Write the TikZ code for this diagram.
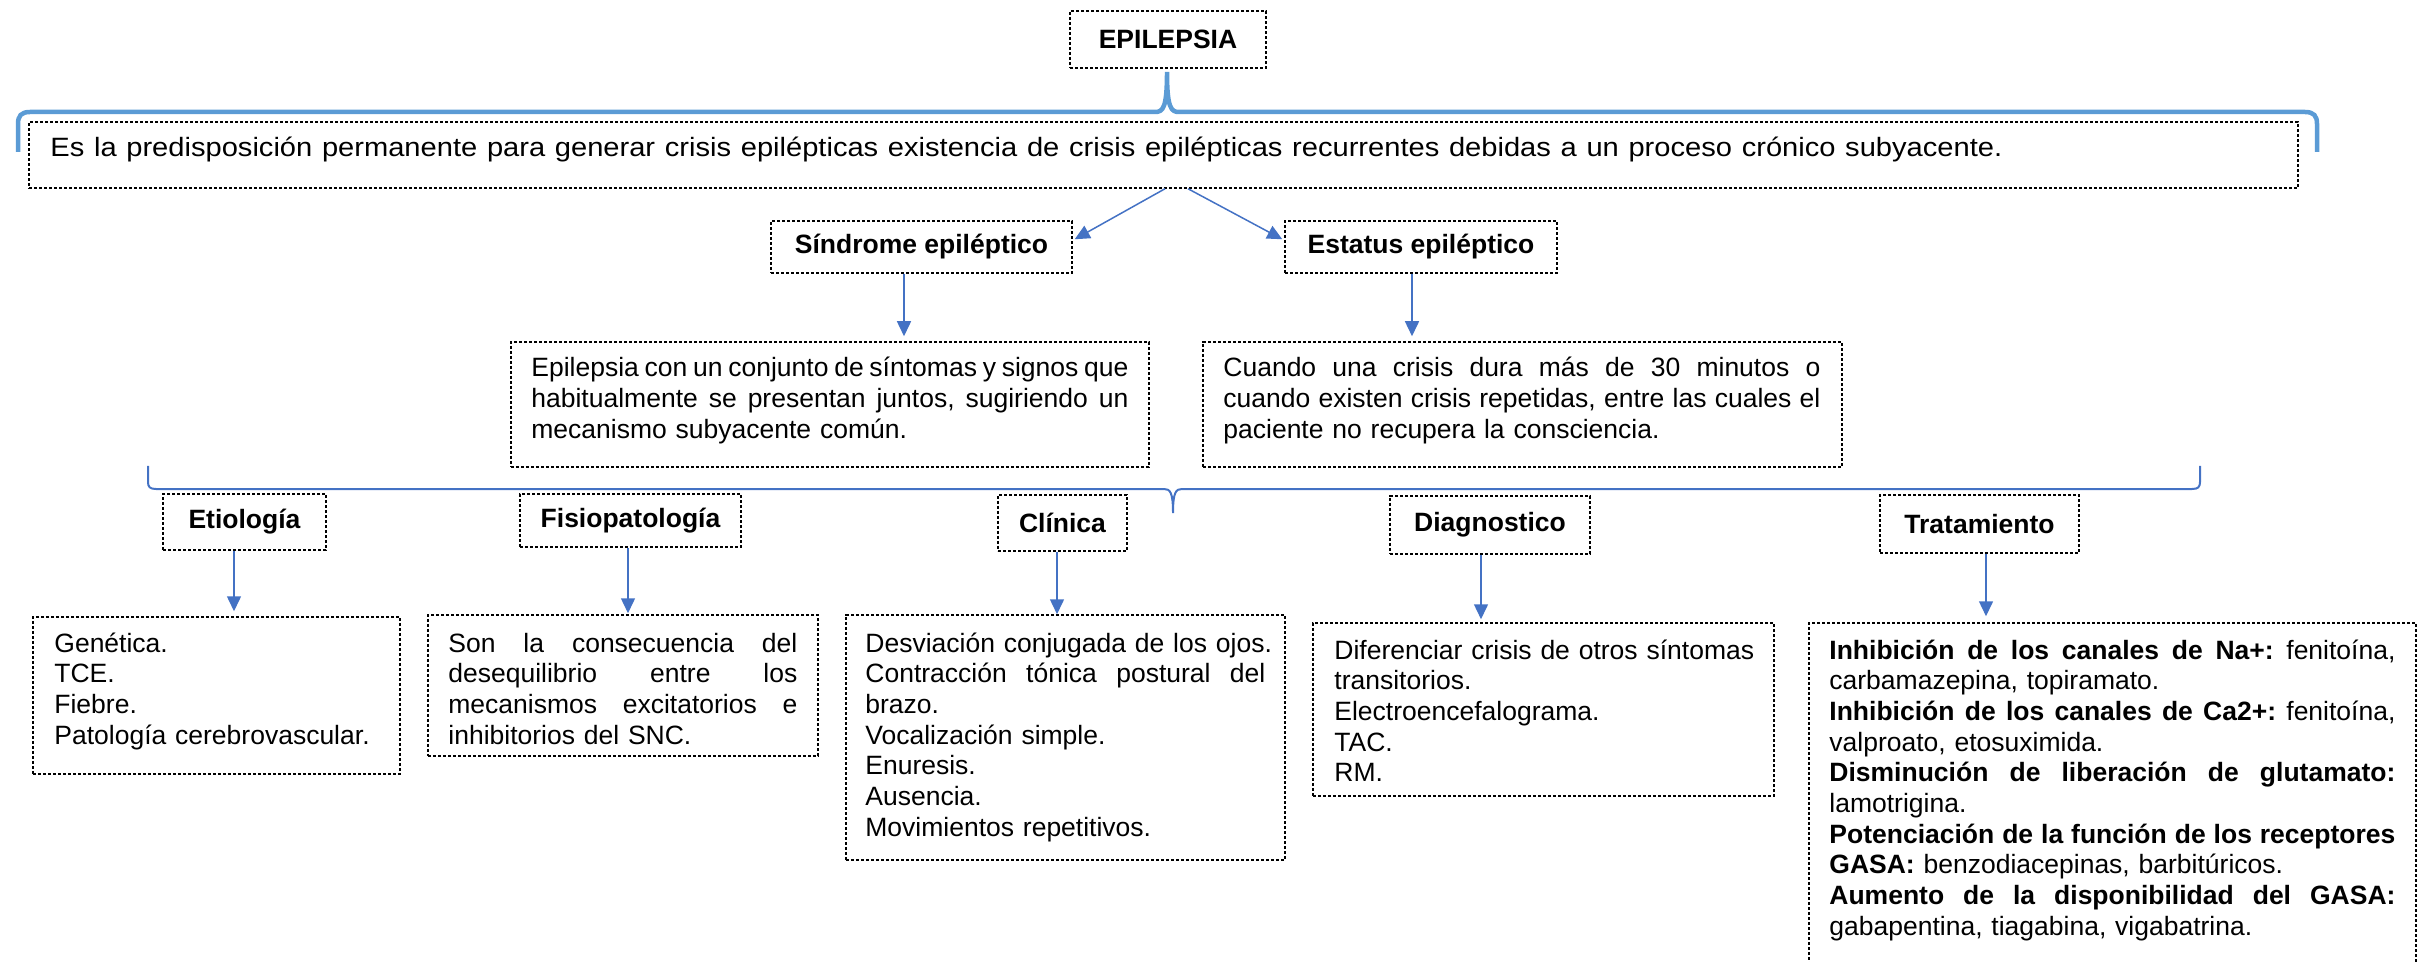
\documentclass[tikz,border=0pt]{standalone}
\usepackage{fontspec}
\usepackage{graphicx}
\setmainfont{Liberation Sans}
\usetikzlibrary{arrows.meta}
\definecolor{arrblue}{HTML}{4472C4}
\definecolor{braceblue}{HTML}{5B9BD5}
\newcommand{\jl}[2]{\makebox[#1][s]{\frenchspacing\spaceskip=0pt\xspaceskip=0pt #2}}
\begin{document}
\fontsize{13.25pt}{15.35pt}\selectfont
\begin{tikzpicture}[x=0.5pt,y=-0.5pt,
  box/.style={draw=black, line width=0.75pt, dash pattern=on 1.6pt off 0.9pt, inner sep=0pt},
  head/.style={box, font=\bfseries, align=center},
  txt/.style={inner sep=0pt, anchor=base west, align=left},
  arr/.style={draw=arrblue, line width=0.75pt, -{Triangle[length=7.5pt,width=7pt]}}]
\useasboundingbox (0,0) rectangle (2420,962);
\clip (0,0) rectangle (2420,962);

% header boxes
\node[head, minimum width=98pt, minimum height=28.5pt] (title) at (1168,39.5) {EPILEPSIA};
\node[head, minimum width=150.5pt, minimum height=26pt] (sind) at (921.5,247) {Síndrome epiléptico};
\node[head, minimum width=136pt, minimum height=26pt] (est) at (1421,247) {Estatus epiléptico};
\node[head, minimum width=81.5pt, minimum height=28pt] (etio) at (244.5,522) {Etiología};
\node[head, minimum width=110.5pt, minimum height=26.5pt] (fisio) at (630.5,520.5) {Fisiopatología};
\node[head, minimum width=64.5pt, minimum height=28pt] (cli) at (1062.5,523) {Clínica};
\node[head, minimum width=100pt, minimum height=29pt] (dia) at (1490,525) {Diagnostico};
\node[head, minimum width=99.5pt, minimum height=29pt] (tra) at (1979.5,524) {Tratamiento};

% content boxes
\node[box, minimum width=1134.5pt, minimum height=33pt] (def) at (1163.5,155) {};
\node[box, minimum width=319pt, minimum height=62.5pt] (sdesc) at (830,404.5) {};
\node[box, minimum width=319.5pt, minimum height=62.5pt] (edesc) at (1522.5,404.5) {};
\node[box, minimum width=183.5pt, minimum height=78.5pt] (etioB) at (216.5,695.5) {};
\node[box, minimum width=195pt, minimum height=70.5pt] (fisioB) at (623,685.5) {};
\node[box, minimum width=219.5pt, minimum height=122.5pt] (cliB) at (1065.5,737.5) {};
\node[box, minimum width=230.5pt, minimum height=86.5pt] (diaB) at (1543.5,709.5) {};
\node[box, minimum width=303.5pt, minimum height=188.5pt] (traB) at (2112.5,811.5) {};

% texts
\node[txt, text width=1100pt] (defT) at (50,157) {\resizebox{976pt}{\height}{Es la predisposición permanente para generar crisis epilépticas existencia de crisis epilépticas recurrentes debidas a un proceso crónico subyacente.}};
\node[txt, text width=310pt] (sdT) at (531,377) {\jl{298.5pt}{Epilepsia con un conjunto de síntomas y signos que}\\\jl{298.5pt}{habitualmente se presentan juntos, sugiriendo un}\\mecanismo subyacente común.};
\node[txt, text width=310pt] (edT) at (1223,377) {\jl{298.5pt}{Cuando una crisis dura más de 30 minutos o}\\\jl{298.5pt}{cuando existen crisis repetidas, entre las cuales el}\\paciente no recupera la consciencia.};
\node[txt, text width=180pt] (etioT) at (54,652) {Genética.\\TCE.\\Fiebre.\\Patología cerebrovascular.};
\node[txt, text width=185pt] (fisioT) at (448,652) {\jl{174.5pt}{Son la consecuencia del}\\\jl{174.5pt}{desequilibrio entre los}\\\jl{174.5pt}{mecanismos excitatorios e}\\inhibitorios del SNC.};
\node[txt, text width=215pt] (cliT) at (865,652) {Desviación conjugada de los ojos.\\\jl{200pt}{Contracción tónica postural del}\\brazo.\\Vocalización simple.\\Enuresis.\\Ausencia.\\Movimientos repetitivos.};
\node[txt, text width=225pt] (diaT) at (1334,659) {Diferenciar crisis de otros síntomas\\transitorios.\\Electroencefalograma.\\TAC.\\RM.};
\node[txt, text width=295pt] (traT) at (1829,659) {\jl{283pt}{\textbf{Inhibición de los canales de Na+:} fenitoína,}\\carbamazepina, topiramato.\\\jl{283pt}{\textbf{Inhibición de los canales de Ca2+:} fenitoína,}\\valproato, etosuximida.\\\jl{283pt}{\textbf{Disminución de liberación de glutamato:}}\\lamotrigina.\\\jl{283pt}{\textbf{Potenciación de la función de los receptores}}\\\textbf{GASA:} benzodiacepinas, barbitúricos.\\\jl{283pt}{\textbf{Aumento de la disponibilidad del GASA:}}\\gabapentina, tiagabina, vigabatrina.};

% braces
\draw[braceblue, line width=2.25pt] (18,152) -- (18,124) .. controls (18,116) and (21,112) .. (30,112) -- (1155,112) .. controls (1163,112) and (1167,108) .. (1167,72) .. controls (1167,108) and (1171,112) .. (1179,112) -- (2305,112) .. controls (2314,112) and (2317,116) .. (2317,124) -- (2317,152);
\draw[arrblue, line width=1pt] (148,466) -- (148,482) .. controls (148,487) and (150,489) .. (156,489) -- (1164,489) .. controls (1170,489) and (1173,492) .. (1173,513) .. controls (1173,492) and (1176,489) .. (1182,489) -- (2192,489) .. controls (2198,489) and (2200,487) .. (2200,482) -- (2200,466);

% arrows
\draw[arr] ([xshift=0.75pt]def.south) -- ([xshift=1pt,yshift=-9.5pt]sind.north east);
\draw[arr] ([xshift=12.25pt]def.south) -- ([xshift=-1pt,yshift=-9.5pt]est.north west);
\draw[arr] ([xshift=-8.75pt]sind.south) -- ([xshift=37pt,yshift=2.5pt]sdesc.north);
\draw[arr] ([xshift=-4.5pt]est.south) -- ([xshift=-55.25pt,yshift=2.5pt]edesc.north);
\draw[arr] ([xshift=-5.25pt]etio.south) -- ([xshift=8.75pt,yshift=2.5pt]etioB.north);
\draw[arr] ([xshift=-1.25pt]fisio.south) -- ([xshift=2.5pt,yshift=0.5pt]fisioB.north);
\draw[arr] ([xshift=-2.75pt]cli.south) -- ([xshift=-4.25pt]cliB.north);
\draw[arr] ([xshift=-4.5pt]dia.south) -- ([xshift=-31.25pt,yshift=1.5pt]diaB.north);
\draw[arr] ([xshift=3.25pt]tra.south) -- ([xshift=-63.25pt,yshift=3pt]traB.north);
\end{tikzpicture}
\end{document}
